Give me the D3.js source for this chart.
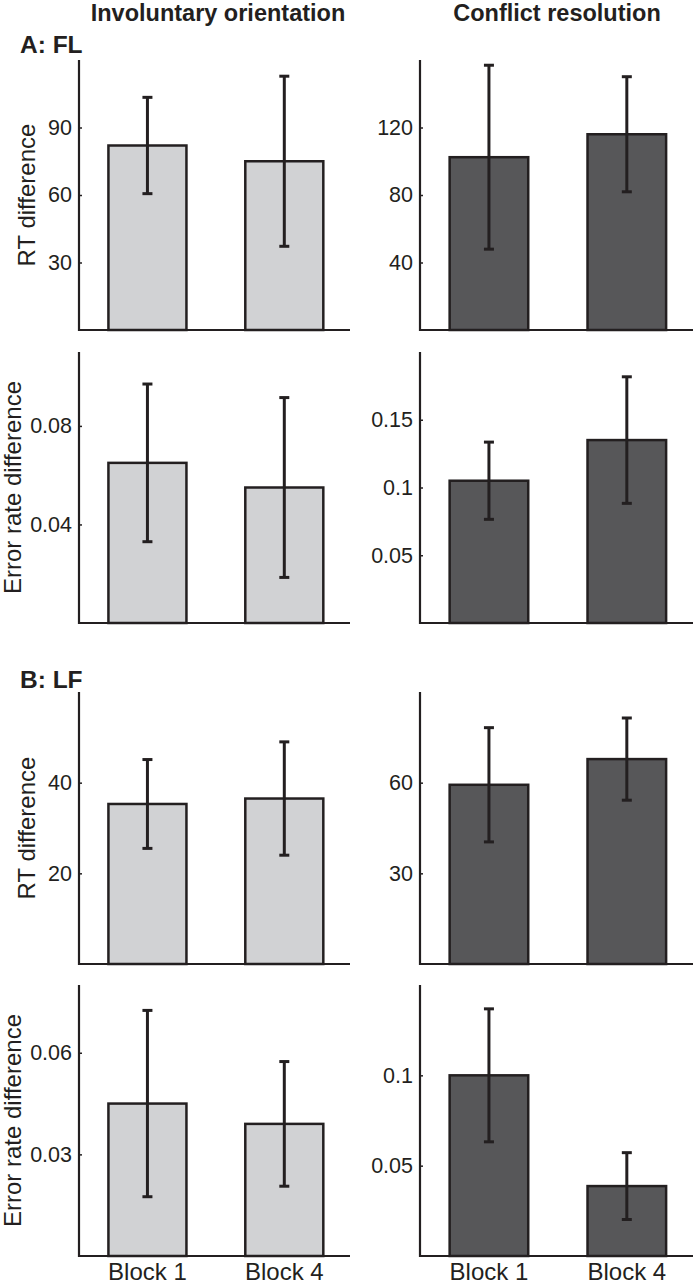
<!DOCTYPE html>
<html>
<head>
<meta charset="utf-8">
<script src="https://cdn.jsdelivr.net/npm/d3@7"></script>
<style>
  html, body { margin: 0; padding: 0; background: #fff; }
  svg text { font-family: "Liberation Sans", Arial, Helvetica, sans-serif; fill: #231f20; }
</style>
</head>
<body>
<div id="chart"></div>
<script>
// Categories and column titles
const blocks = ['Block 1', 'Block 4'];
const columnTitles = ['Involuntary orientation', 'Conflict resolution'];
const groupLabels = ['A: FL', 'B: LF'];
const rowLabels = ['RT difference', 'Error rate difference', 'RT difference', 'Error rate difference'];

// A: FL — means and error bars
const flRtInvol = [82, 75];
const flRtInvolErr = [21.4, 37.8];
const flRtConf = [102.4, 116];
const flRtConfErr = [54.5, 34.1];
const flErInvol = [0.065, 0.055];
const flErInvolErr = [0.032, 0.0365];
const flErConf = [0.105, 0.135];
const flErConfErr = [0.0285, 0.0467];

// B: LF — means and error bars
const lfRtInvol = [35.3, 36.5];
const lfRtInvolErr = [9.8, 12.5];
const lfRtConf = [59.3, 67.8];
const lfRtConfErr = [18.9, 13.6];
const lfErInvol = [0.045, 0.039];
const lfErInvolErr = [0.0275, 0.0184];
const lfErConf = [0.1, 0.0387];
const lfErConfErr = [0.0368, 0.0185];

// y-axis limits and tick labels per panel
const yMax = [120, 160, 0.11, 0.2, 60, 90, 0.08, 0.15];
const yTicks = [
  [30, 60, 90], [40, 80, 120],
  [0.04, 0.08], [0.05, 0.1, 0.15],
  [20, 40], [30, 60],
  [0.03, 0.06], [0.05, 0.1],
];

const W = 696;
const H = 1284;
const COLS = [[79, 350], [420, 693]];
const ROWS = [[60, 330], [352, 623], [692, 964], [985, 1256]];
const LIGHT = '#d1d2d4';
const DARK = '#575759';
const INK = '#231f20';
const BAR_WIDTH = 0.57;

const panels = [
  { means: flRtInvol, errs: flRtInvolErr },
  { means: flRtConf, errs: flRtConfErr },
  { means: flErInvol, errs: flErInvolErr },
  { means: flErConf, errs: flErConfErr },
  { means: lfRtInvol, errs: lfRtInvolErr },
  { means: lfRtConf, errs: lfRtConfErr },
  { means: lfErInvol, errs: lfErInvolErr },
  { means: lfErConf, errs: lfErConfErr },
];

const svg = d3.select('#chart')
  .append('svg')
  .attr('width', W)
  .attr('height', H)
  .attr('viewBox', `0 0 ${W} ${H}`);

panels.forEach((p, i) => {
  const row = Math.floor(i / 2);
  const col = i % 2;
  drawPanel(p, row, col, i);
});

// Column titles
svg.selectAll('.col-title')
  .data(columnTitles)
  .join('text')
  .attr('class', 'col-title')
  .attr('x', (d, i) => i === 0 ? 218 : 557)
  .attr('y', 21)
  .attr('text-anchor', 'middle')
  .attr('font-size', '23.5px')
  .attr('font-weight', 700)
  .text(d => d);

// Group labels
svg.selectAll('.group-label')
  .data(groupLabels)
  .join('text')
  .attr('class', 'group-label')
  .attr('x', 20)
  .attr('y', (d, i) => i === 0 ? 53 : 688)
  .attr('font-size', '24.5px')
  .attr('font-weight', 700)
  .text(d => d);

// Row y labels
svg.selectAll('.row-label')
  .data(rowLabels)
  .join('text')
  .attr('class', 'row-label')
  .attr('transform', (d, i) => {
    const cy = (ROWS[i][0] + ROWS[i][1]) / 2;
    const bx = d.startsWith('RT') ? 35 : 21;
    return `translate(${bx}, ${cy}) rotate(-90)`;
  })
  .attr('text-anchor', 'middle')
  .attr('font-size', '24px')
  .text(d => d);

function drawPanel(p, row, col, idx) {
  const [x0, x1] = COLS[col];
  const [y0, y1] = ROWS[row];
  const fill = col === 0 ? LIGHT : DARK;

  const x = d3.scaleLinear().domain([0.5, 2.48]).range([x0, x1]);
  const y = d3.scaleLinear().domain([0, yMax[idx]]).range([y1, y0]);

  const g = svg.append('g').attr('class', 'panel');

  // Bars
  g.selectAll('.bar')
    .data(p.means)
    .join('rect')
    .attr('class', 'bar')
    .attr('x', (d, i) => x(i + 1 - BAR_WIDTH / 2))
    .attr('width', x(1 + BAR_WIDTH / 2) - x(1 - BAR_WIDTH / 2))
    .attr('y', d => y(d))
    .attr('height', d => y(0) - y(d))
    .attr('fill', fill)
    .attr('stroke', INK)
    .attr('stroke-width', 2.5);

  // Error bars
  const eb = g.selectAll('.err')
    .data(p.means.map((m, i) => ({ m, e: p.errs[i], i })))
    .join('g')
    .attr('class', 'err')
    .attr('stroke', INK)
    .attr('stroke-width', 3);

  eb.append('line')
    .attr('x1', d => x(d.i + 1)).attr('x2', d => x(d.i + 1))
    .attr('y1', d => y(d.m + d.e)).attr('y2', d => y(d.m - d.e));
  eb.append('line')
    .attr('x1', d => x(d.i + 1) - 5).attr('x2', d => x(d.i + 1) + 5)
    .attr('y1', d => y(d.m + d.e)).attr('y2', d => y(d.m + d.e));
  eb.append('line')
    .attr('x1', d => x(d.i + 1) - 5).attr('x2', d => x(d.i + 1) + 5)
    .attr('y1', d => y(d.m - d.e)).attr('y2', d => y(d.m - d.e));

  // Y axis: inward ticks, labels on the left
  const yAxis = g.append('g')
    .attr('transform', `translate(${x0}, 0)`)
    .call(d3.axisLeft(y).tickValues(yTicks[idx]).tickSize(-3).tickPadding(7).tickFormat(d => String(d)));
  yAxis.select('.domain').remove();
  yAxis.selectAll('.tick line').attr('stroke', INK).attr('stroke-width', 1.5);
  yAxis.selectAll('.tick text')
    .attr('font-size', '21.5px')
    .attr('font-family', '"Liberation Sans", Arial, Helvetica, sans-serif')
    .attr('fill', INK);

  // Axis lines (y and x)
  g.append('path')
    .attr('d', `M${x0},${y0}V${y1}H${x1}`)
    .attr('fill', 'none')
    .attr('stroke', INK)
    .attr('stroke-width', 2.2);

  // Category labels only under the bottom row
  if (row === ROWS.length - 1) {
    g.selectAll('.xlab')
      .data(blocks)
      .join('text')
      .attr('class', 'xlab')
      .attr('x', (d, i) => x(i + 1))
      .attr('y', 1280)
      .attr('text-anchor', 'middle')
      .attr('font-size', '24px')
      .text(d => d);
  }
}
</script>
</body>
</html>
